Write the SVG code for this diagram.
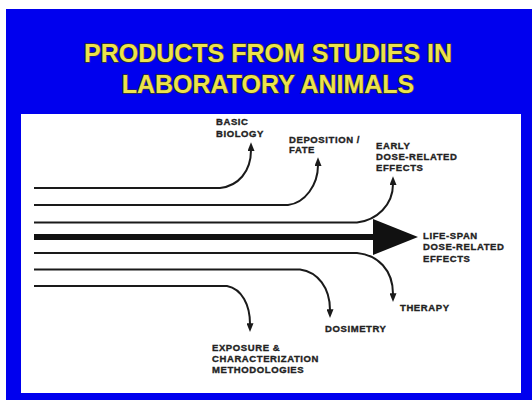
<svg xmlns="http://www.w3.org/2000/svg" width="532" height="402" viewBox="0 0 532 402">
<defs>
<style>
.title{font-family:"Liberation Sans",Arial,sans-serif;font-weight:bold;font-size:25px;fill:#ece34c;stroke:#3a3a20;stroke-width:1.4;paint-order:stroke;text-anchor:middle}
.lbl{font-family:"Liberation Sans",Arial,sans-serif;font-weight:bold;font-size:9.5px;fill:#222;stroke:#222;stroke-width:0.35;letter-spacing:0.6px}
.ln{fill:none;stroke:#1a1a1a;stroke-width:2;marker-end:url(#ah)}
</style>
<marker id="ah" viewBox="0 0 10 8" refX="1" refY="4" markerWidth="9" markerHeight="7" markerUnits="userSpaceOnUse" orient="auto">
<path d="M0,0 L10,4 L0,8 z" fill="#1a1a1a"/>
</marker>
</defs>
<rect x="0" y="0" width="532" height="402" fill="#ffffff"/>
<rect x="6" y="9" width="526" height="391" fill="#0000ee"/>
<rect x="21" y="114" width="500" height="279" fill="#ffffff"/>
<g id="title">
<text class="title" x="268" y="62">PRODUCTS FROM STUDIES IN</text>
<text class="title" x="268" y="93">LABORATORY ANIMALS</text>
</g>
<g id="connectors">
<path class="ln" d="M34,188 H220 C238,186 251,172 251,150"/>
<path class="ln" d="M34,205 H288 C305,203 318,185 318,165"/>
<path class="ln" d="M34,222.5 H357 C377,220 393,205 393,184"/>
<path d="M34,237 H378" stroke="#111" stroke-width="6" fill="none"/>
<polygon points="373,219 418,237 373,255" fill="#111"/>
<path class="ln" d="M34,253 H357 C378,255 393,270 393,294"/>
<path class="ln" d="M34,269.5 H300 C318,272 330,288 330,310"/>
<path class="ln" d="M34,286 H227 C242,289 250,305 250,324"/>
</g>
<g id="basic-biology">
<text class="lbl" x="216" y="125">BASIC</text>
<text class="lbl" x="216" y="137">BIOLOGY</text>
</g>
<g id="deposition-fate">
<text class="lbl" x="289" y="143">DEPOSITION /</text>
<text class="lbl" x="289" y="153">FATE</text>
</g>
<g id="early-effects">
<text class="lbl" x="376" y="149">EARLY</text>
<text class="lbl" x="376" y="160">DOSE-RELATED</text>
<text class="lbl" x="376" y="171">EFFECTS</text>
</g>
<g id="life-span">
<text class="lbl" x="423" y="238.5">LIFE-SPAN</text>
<text class="lbl" x="423" y="250">DOSE-RELATED</text>
<text class="lbl" x="423" y="261.5">EFFECTS</text>
</g>
<g id="therapy">
<text class="lbl" x="400" y="311">THERAPY</text>
</g>
<g id="dosimetry">
<text class="lbl" x="325" y="332">DOSIMETRY</text>
</g>
<g id="exposure">
<text class="lbl" x="212" y="351">EXPOSURE &amp;</text>
<text class="lbl" x="212" y="362">CHARACTERIZATION</text>
<text class="lbl" x="212" y="373">METHODOLOGIES</text>
</g>
</svg>
